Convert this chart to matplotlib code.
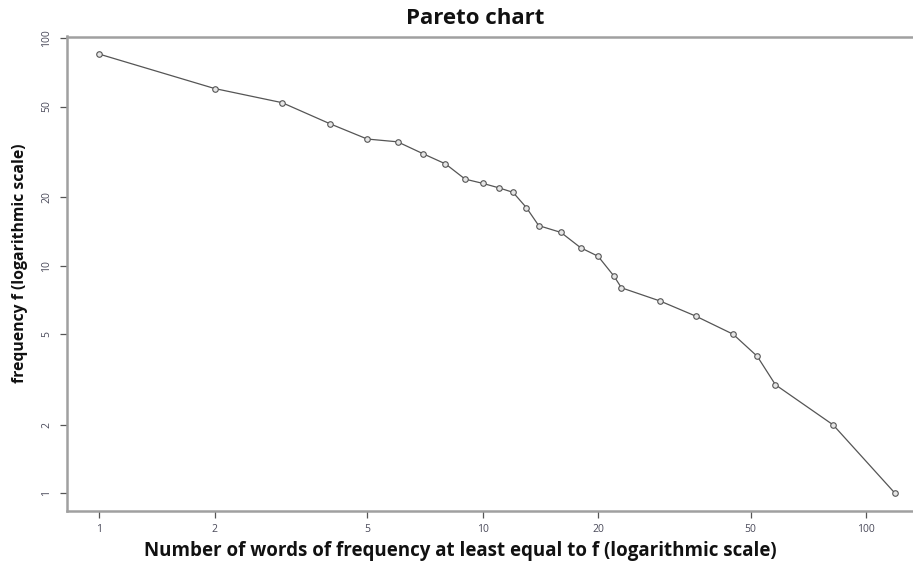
import numpy as np
import matplotlib
matplotlib.use("Agg")
import matplotlib.pyplot as plt
from matplotlib.ticker import FixedLocator, FixedFormatter, NullLocator

# data
n_words = [1, 2, 3, 4, 5, 6, 7, 8, 9, 10, 11, 12, 13, 14, 16, 18, 20, 22, 23,
           29, 36, 45, 52, 58, 82, 119]
freq = [85, 60, 52, 42, 36, 35, 31, 28, 24, 23, 22, 21, 18, 15, 14, 12, 11, 9,
        8, 7, 6, 5, 4, 3, 2, 1]
tick_vals = [1, 2, 5, 10, 20, 50, 100]
tick_labels = ["1", "2", "5", "10", "20", "50", "100"]

title = "Pareto chart"
xlabel = "Number of words of frequency at least equal to f (logarithmic scale)"
ylabel = "frequency f (logarithmic scale)"

plt.rcParams['font.family'] = ['Open Sans', 'DejaVu Sans']

W, H = 913, 562
fig = plt.figure(figsize=(W / 100, H / 100), dpi=100)
# axes extends past the right edge (cropped original)
left_px, right_px, top_px, bot_px = 67.3, 927.0, 36.5, 511.0
ax = fig.add_axes([left_px / W, (H - bot_px) / H,
                   (right_px - left_px) / W, (bot_px - top_px) / H])

ax.plot(n_words, freq, color='#555555', lw=0.9, marker='o', ms=4.0,
        mfc='#e6e6e6', mec='#555555', mew=0.8, zorder=3)

ax.set_xscale('log')
ax.set_yscale('log')

def r_lim(v):
    lo, hi = np.log10(min(v)), np.log10(max(v))
    r = hi - lo
    return 10 ** (lo - 0.04 * r), 10 ** (hi + 0.04 * r)

ax.set_xlim(r_lim(n_words))
ax.set_ylim(r_lim(freq))

for axis in (ax.xaxis, ax.yaxis):
    axis.set_major_locator(FixedLocator(tick_vals))
    axis.set_major_formatter(FixedFormatter(tick_labels))
    axis.set_minor_locator(NullLocator())

ax.tick_params(axis='both', direction='out', length=5, width=0.9,
               color='#555555', labelsize=7.5, labelcolor='#4a4a5a')
ax.tick_params(axis='x', pad=4)
ax.tick_params(axis='y', pad=6)
for lab in ax.get_yticklabels():
    lab.set_rotation(90)
    lab.set_va('center')

for side in ('left', 'bottom', 'top'):
    ax.spines[side].set_color('#a0a0a0')
    ax.spines[side].set_linewidth(1.8)
ax.spines['right'].set_visible(False)

fig.text(475 / W, 1 - 18 / H, title, ha='center', va='center',
         fontsize=16, fontweight='bold', color='#111111')
fig.text(460 / W, 1 - 551 / H, xlabel, ha='center', va='center',
         fontsize=13.5, fontweight='bold', color='#111111')
fig.text(20 / W, 1 - 263 / H, ylabel, ha='center', va='center',
         rotation=90, fontsize=11.3, fontweight='bold', color='#111111')

fig.savefig("out.png", dpi=100)
